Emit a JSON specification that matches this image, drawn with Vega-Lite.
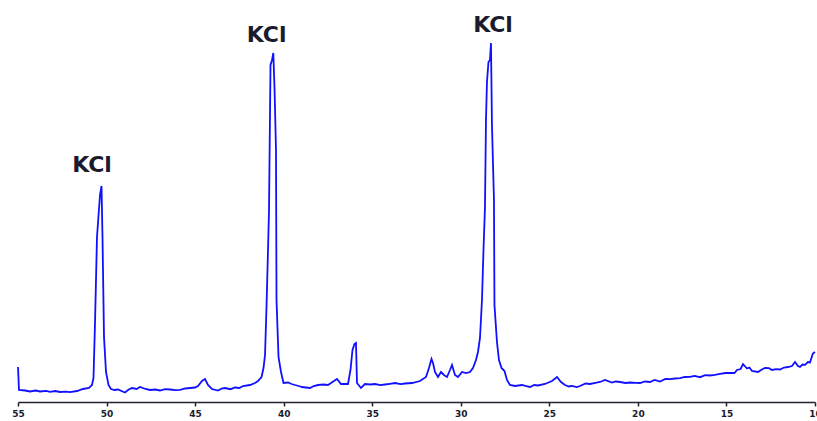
{
  "$schema": "https://vega.github.io/schema/vega-lite/v6.json",
  "autosize": "none",
  "width": 797,
  "height": 402,
  "padding": {"left": 18, "right": 2, "top": 0, "bottom": 19},
  "background": "white",
  "view": {"stroke": null},
  "datasets": {
    "xrd": [
      {"angle": 55.000, "intensity": 350},
      {"angle": 54.944, "intensity": 120},
      {"angle": 54.600, "intensity": 115},
      {"angle": 54.322, "intensity": 105},
      {"angle": 54.000, "intensity": 115},
      {"angle": 53.758, "intensity": 105},
      {"angle": 53.400, "intensity": 112},
      {"angle": 53.193, "intensity": 102},
      {"angle": 52.900, "intensity": 110},
      {"angle": 52.629, "intensity": 100},
      {"angle": 52.300, "intensity": 104},
      {"angle": 52.064, "intensity": 98},
      {"angle": 51.669, "intensity": 110},
      {"angle": 51.330, "intensity": 130},
      {"angle": 50.991, "intensity": 140},
      {"angle": 50.822, "intensity": 170},
      {"angle": 50.737, "intensity": 240},
      {"angle": 50.652, "intensity": 790},
      {"angle": 50.540, "intensity": 1650},
      {"angle": 50.370, "intensity": 2070},
      {"angle": 50.285, "intensity": 2160},
      {"angle": 50.229, "intensity": 1650},
      {"angle": 50.144, "intensity": 650},
      {"angle": 50.031, "intensity": 300},
      {"angle": 49.890, "intensity": 170},
      {"angle": 49.749, "intensity": 130},
      {"angle": 49.550, "intensity": 120},
      {"angle": 49.354, "intensity": 125},
      {"angle": 48.959, "intensity": 95},
      {"angle": 48.750, "intensity": 125},
      {"angle": 48.563, "intensity": 140},
      {"angle": 48.300, "intensity": 130},
      {"angle": 48.112, "intensity": 150},
      {"angle": 47.800, "intensity": 130},
      {"angle": 47.547, "intensity": 120},
      {"angle": 47.250, "intensity": 125},
      {"angle": 46.983, "intensity": 115},
      {"angle": 46.700, "intensity": 128},
      {"angle": 46.418, "intensity": 125},
      {"angle": 46.100, "intensity": 118},
      {"angle": 45.853, "intensity": 122},
      {"angle": 45.550, "intensity": 135},
      {"angle": 45.289, "intensity": 140},
      {"angle": 45.000, "intensity": 145},
      {"angle": 44.837, "intensity": 160},
      {"angle": 44.611, "intensity": 210},
      {"angle": 44.442, "intensity": 230},
      {"angle": 44.273, "intensity": 170},
      {"angle": 44.047, "intensity": 130},
      {"angle": 43.708, "intensity": 115},
      {"angle": 43.500, "intensity": 135},
      {"angle": 43.313, "intensity": 140},
      {"angle": 43.000, "intensity": 128},
      {"angle": 42.748, "intensity": 145},
      {"angle": 42.500, "intensity": 140},
      {"angle": 42.296, "intensity": 160},
      {"angle": 41.901, "intensity": 170},
      {"angle": 41.618, "intensity": 190},
      {"angle": 41.449, "intensity": 210},
      {"angle": 41.251, "intensity": 250},
      {"angle": 41.138, "intensity": 340},
      {"angle": 41.053, "intensity": 470},
      {"angle": 40.969, "intensity": 950},
      {"angle": 40.884, "intensity": 1520},
      {"angle": 40.827, "intensity": 1920},
      {"angle": 40.743, "intensity": 3370},
      {"angle": 40.658, "intensity": 3420},
      {"angle": 40.585, "intensity": 3490},
      {"angle": 40.517, "intensity": 3140},
      {"angle": 40.433, "intensity": 2520},
      {"angle": 40.404, "intensity": 1020},
      {"angle": 40.291, "intensity": 450},
      {"angle": 40.150, "intensity": 300},
      {"angle": 40.009, "intensity": 190},
      {"angle": 39.754, "intensity": 195},
      {"angle": 39.550, "intensity": 180},
      {"angle": 39.359, "intensity": 170},
      {"angle": 39.150, "intensity": 160},
      {"angle": 38.965, "intensity": 150},
      {"angle": 38.750, "intensity": 145},
      {"angle": 38.513, "intensity": 140},
      {"angle": 38.300, "intensity": 160},
      {"angle": 38.061, "intensity": 170},
      {"angle": 37.750, "intensity": 175},
      {"angle": 37.497, "intensity": 170},
      {"angle": 37.158, "intensity": 210},
      {"angle": 36.989, "intensity": 230},
      {"angle": 36.763, "intensity": 180},
      {"angle": 36.368, "intensity": 180},
      {"angle": 36.227, "intensity": 320},
      {"angle": 36.114, "intensity": 520},
      {"angle": 36.001, "intensity": 580},
      {"angle": 35.916, "intensity": 590},
      {"angle": 35.860, "intensity": 190},
      {"angle": 35.634, "intensity": 140},
      {"angle": 35.408, "intensity": 180},
      {"angle": 35.100, "intensity": 175},
      {"angle": 34.843, "intensity": 180},
      {"angle": 34.550, "intensity": 168},
      {"angle": 34.279, "intensity": 175},
      {"angle": 34.000, "intensity": 182},
      {"angle": 33.714, "intensity": 190},
      {"angle": 33.400, "intensity": 178},
      {"angle": 33.150, "intensity": 185},
      {"angle": 32.754, "intensity": 190},
      {"angle": 32.303, "intensity": 210},
      {"angle": 31.964, "intensity": 250},
      {"angle": 31.795, "intensity": 340},
      {"angle": 31.653, "intensity": 430},
      {"angle": 31.569, "intensity": 390},
      {"angle": 31.456, "intensity": 300},
      {"angle": 31.287, "intensity": 250},
      {"angle": 31.117, "intensity": 300},
      {"angle": 30.948, "intensity": 270},
      {"angle": 30.778, "intensity": 250},
      {"angle": 30.609, "intensity": 320},
      {"angle": 30.496, "intensity": 370},
      {"angle": 30.327, "intensity": 270},
      {"angle": 30.158, "intensity": 250},
      {"angle": 29.932, "intensity": 300},
      {"angle": 29.706, "intensity": 290},
      {"angle": 29.480, "intensity": 300},
      {"angle": 29.311, "intensity": 340},
      {"angle": 29.142, "intensity": 420},
      {"angle": 29.029, "intensity": 500},
      {"angle": 28.916, "intensity": 640},
      {"angle": 28.803, "intensity": 1020},
      {"angle": 28.718, "intensity": 1520},
      {"angle": 28.633, "intensity": 1950},
      {"angle": 28.577, "intensity": 2820},
      {"angle": 28.521, "intensity": 3200},
      {"angle": 28.436, "intensity": 3400},
      {"angle": 28.351, "intensity": 3420},
      {"angle": 28.295, "intensity": 3590},
      {"angle": 28.239, "intensity": 2770},
      {"angle": 28.126, "intensity": 2020},
      {"angle": 28.098, "intensity": 970},
      {"angle": 27.957, "intensity": 600},
      {"angle": 27.844, "intensity": 420},
      {"angle": 27.701, "intensity": 340},
      {"angle": 27.532, "intensity": 310},
      {"angle": 27.391, "intensity": 220},
      {"angle": 27.222, "intensity": 170},
      {"angle": 26.939, "intensity": 160},
      {"angle": 26.544, "intensity": 170},
      {"angle": 26.300, "intensity": 158},
      {"angle": 26.092, "intensity": 150},
      {"angle": 25.850, "intensity": 170},
      {"angle": 25.640, "intensity": 165},
      {"angle": 25.245, "intensity": 180},
      {"angle": 24.850, "intensity": 210},
      {"angle": 24.568, "intensity": 250},
      {"angle": 24.342, "intensity": 200},
      {"angle": 24.116, "intensity": 170},
      {"angle": 23.900, "intensity": 155},
      {"angle": 23.721, "intensity": 162},
      {"angle": 23.450, "intensity": 150},
      {"angle": 23.269, "intensity": 160},
      {"angle": 22.950, "intensity": 185},
      {"angle": 22.704, "intensity": 180},
      {"angle": 22.400, "intensity": 192},
      {"angle": 22.140, "intensity": 200},
      {"angle": 21.857, "intensity": 220},
      {"angle": 21.462, "intensity": 195},
      {"angle": 21.250, "intensity": 205},
      {"angle": 21.010, "intensity": 200},
      {"angle": 20.700, "intensity": 190},
      {"angle": 20.445, "intensity": 195},
      {"angle": 20.100, "intensity": 192},
      {"angle": 19.881, "intensity": 190},
      {"angle": 19.600, "intensity": 205},
      {"angle": 19.316, "intensity": 200},
      {"angle": 19.050, "intensity": 220},
      {"angle": 18.751, "intensity": 205},
      {"angle": 18.450, "intensity": 230},
      {"angle": 18.187, "intensity": 228},
      {"angle": 17.900, "intensity": 235},
      {"angle": 17.622, "intensity": 238},
      {"angle": 17.350, "intensity": 250},
      {"angle": 17.058, "intensity": 252},
      {"angle": 16.800, "intensity": 262},
      {"angle": 16.493, "intensity": 248},
      {"angle": 16.200, "intensity": 268},
      {"angle": 15.929, "intensity": 265},
      {"angle": 15.650, "intensity": 272},
      {"angle": 15.364, "intensity": 282},
      {"angle": 15.050, "intensity": 290},
      {"angle": 14.799, "intensity": 292},
      {"angle": 14.550, "intensity": 290},
      {"angle": 14.404, "intensity": 320},
      {"angle": 14.200, "intensity": 330},
      {"angle": 14.065, "intensity": 380},
      {"angle": 13.840, "intensity": 335},
      {"angle": 13.700, "intensity": 345},
      {"angle": 13.558, "intensity": 310},
      {"angle": 13.219, "intensity": 300},
      {"angle": 13.000, "intensity": 325},
      {"angle": 12.824, "intensity": 340},
      {"angle": 12.600, "intensity": 338},
      {"angle": 12.429, "intensity": 320},
      {"angle": 12.200, "intensity": 328},
      {"angle": 11.975, "intensity": 325},
      {"angle": 11.750, "intensity": 345},
      {"angle": 11.524, "intensity": 350},
      {"angle": 11.300, "intensity": 360},
      {"angle": 11.129, "intensity": 400},
      {"angle": 10.960, "intensity": 360},
      {"angle": 10.847, "intensity": 350},
      {"angle": 10.700, "intensity": 375},
      {"angle": 10.564, "intensity": 372},
      {"angle": 10.400, "intensity": 400},
      {"angle": 10.282, "intensity": 395},
      {"angle": 10.120, "intensity": 485},
      {"angle": 10.000, "intensity": 500}
    ],
    "labels": [
      {"angle": 50.82, "intensity": 2300, "text": "KCl"},
      {"angle": 40.96, "intensity": 3600, "text": "KCl"},
      {"angle": 28.18, "intensity": 3700, "text": "KCl"}
    ]
  },
  "layer": [
    {
      "data": {"name": "xrd"},
      "mark": {"type": "line", "color": "#1010ff", "strokeWidth": 1.8, "interpolate": "linear"},
      "encoding": {
        "x": {
          "field": "angle", "type": "quantitative",
          "scale": {"domain": [10, 55], "reverse": true, "nice": false, "zero": false},
          "axis": {
            "title": null, "grid": false,
            "values": [55, 50, 45, 40, 35, 30, 25, 20, 15, 10],
            "domainColor": "#222233", "domainWidth": 1.5,
            "tickColor": "#222233", "tickWidth": 1.5, "tickSize": 4,
            "labelFont": "DejaVu Sans", "labelFontSize": 9, "labelFontWeight": "bold",
            "labelColor": "#1b1b2e", "labelPadding": 3, "labelFlush": false, "labelOverlap": false
          }
        },
        "y": {
          "field": "intensity", "type": "quantitative",
          "scale": {"domain": [0, 4020], "nice": false, "zero": true},
          "axis": null
        }
      }
    },
    {
      "data": {"name": "labels"},
      "mark": {"type": "text", "font": "DejaVu Sans", "fontSize": 22, "fontWeight": "bold", "color": "#1b1b2e", "align": "center", "baseline": "alphabetic"},
      "encoding": {
        "x": {"field": "angle", "type": "quantitative"},
        "y": {"field": "intensity", "type": "quantitative"},
        "text": {"field": "text"}
      }
    }
  ]
}
